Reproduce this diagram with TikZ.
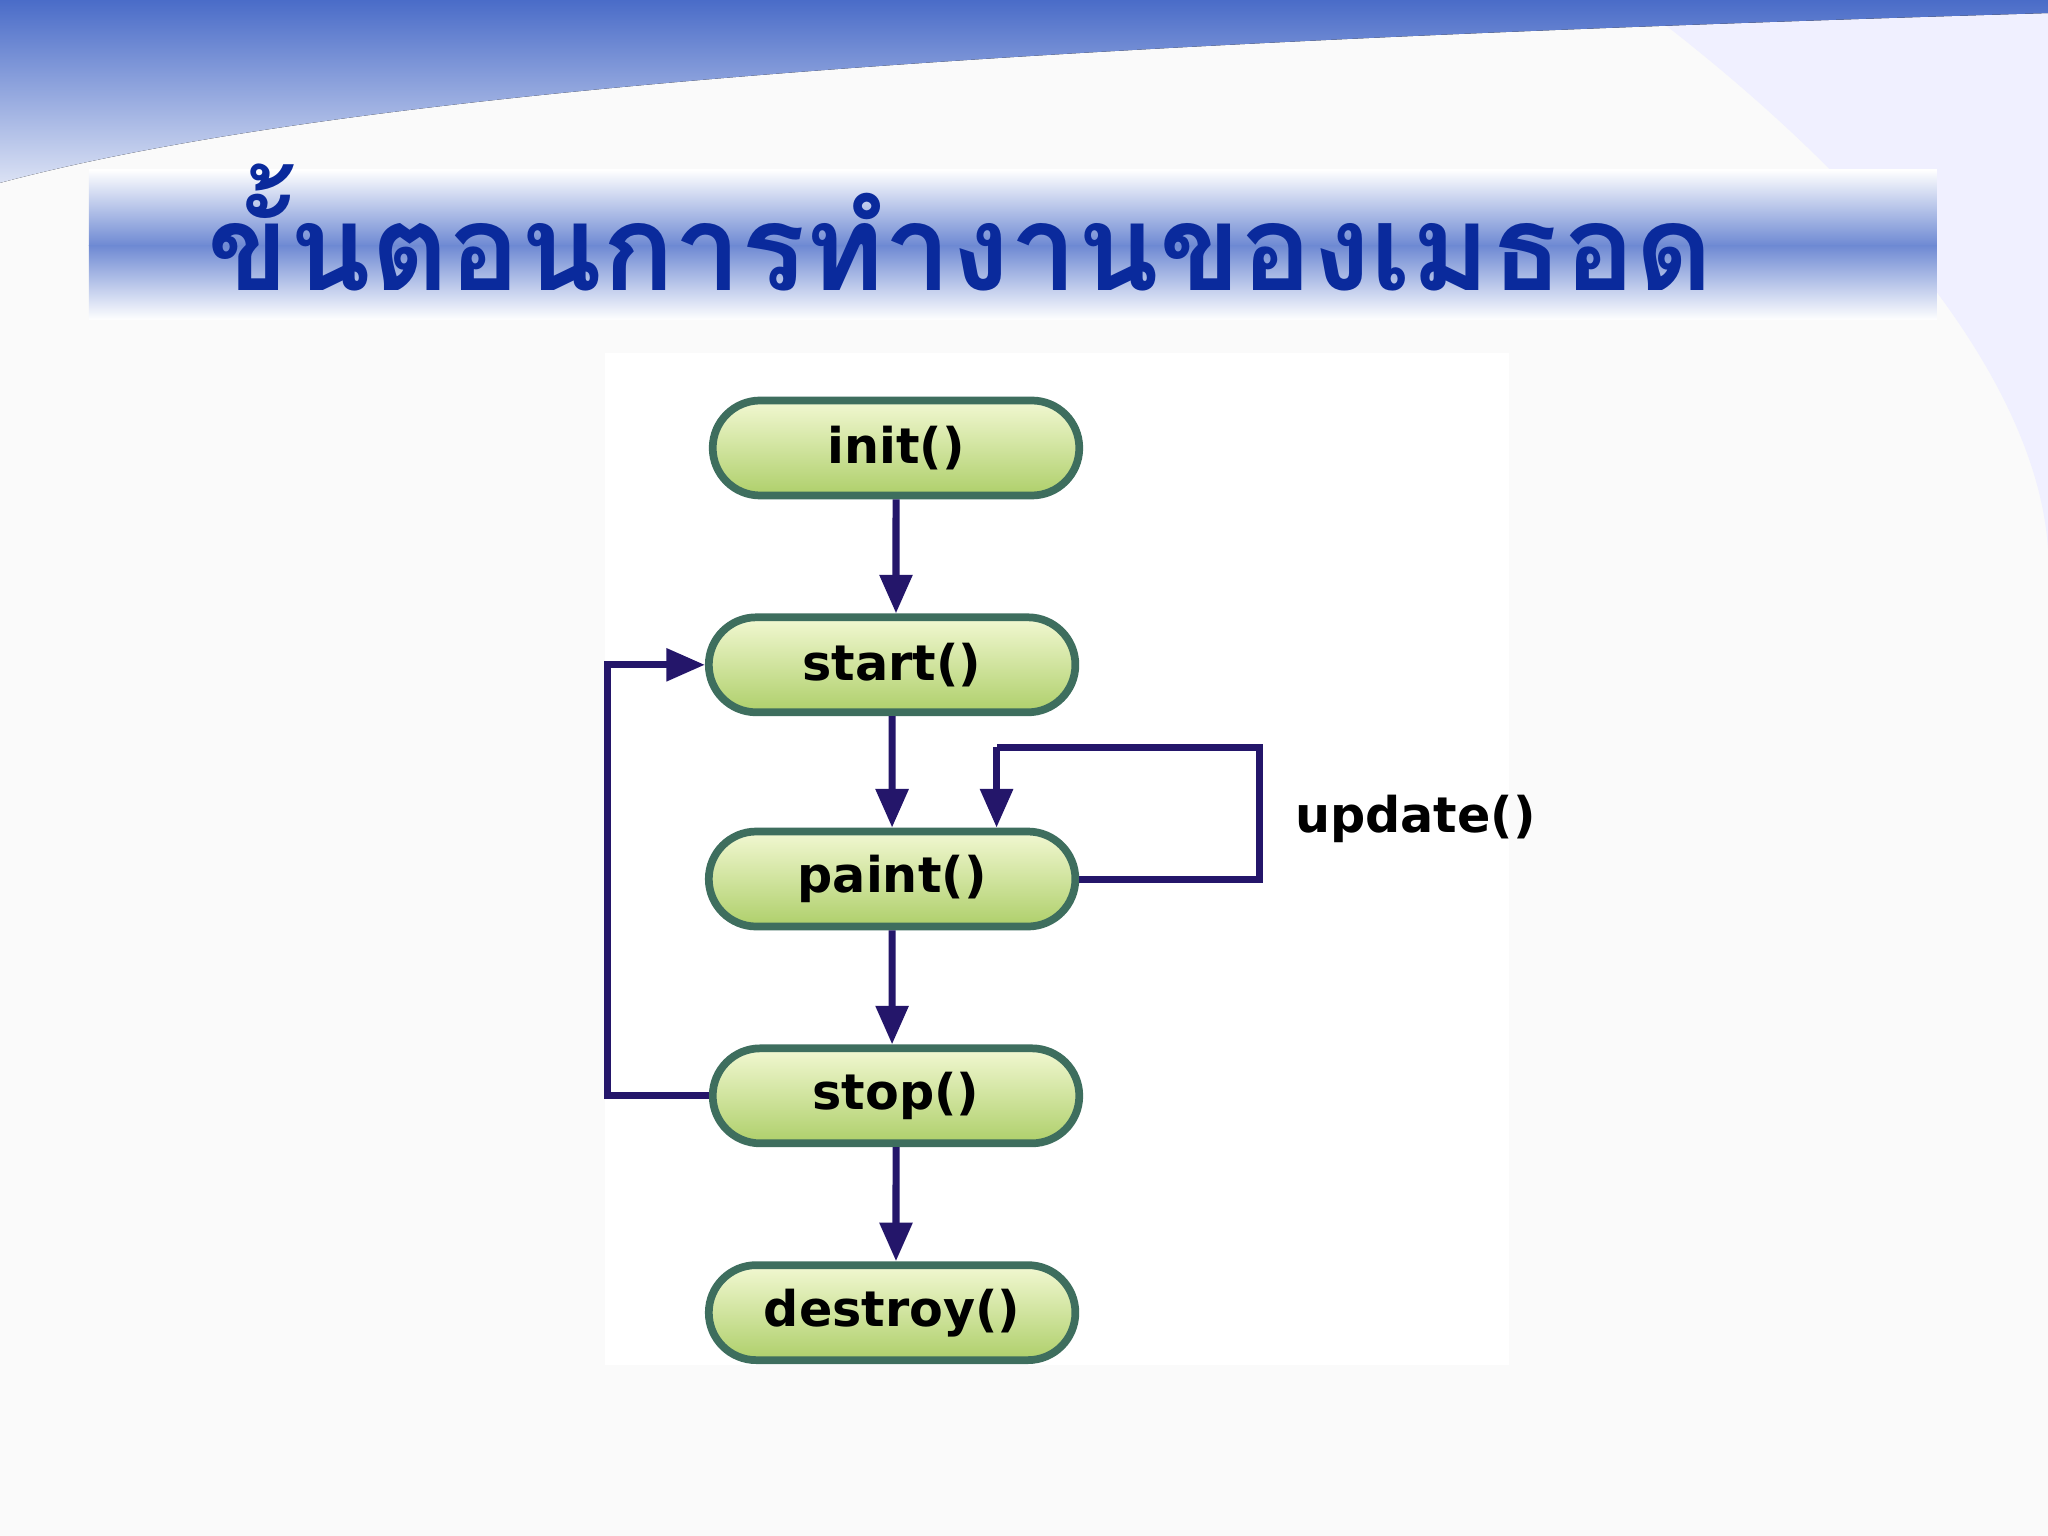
\documentclass[tikz,border=0pt]{standalone}
\usepackage{fontspec}
\newfontfamily\thaifont[Script=Thai]{Loma}
\newfontfamily\labelfont{DejaVu Sans}
\usetikzlibrary{arrows.meta,positioning,shapes.misc}
\definecolor{navy}{HTML}{24166A}
\definecolor{rim}{HTML}{3E6E5E}
\definecolor{leafhi}{HTML}{F2F8D2}
\definecolor{leaflo}{HTML}{AECF6A}
\definecolor{titleblue}{HTML}{0A2A9C}
\definecolor{bandblue}{HTML}{4A6CC8}
\tikzset{
  method/.style={rounded rectangle, draw=rim, line width=2.2pt,
    minimum width=3.9cm, minimum height=0.95cm,
    top color=leafhi, bottom color=leaflo,
    font=\labelfont\bfseries\fontsize{14}{16}\selectfont},
  flow/.style={navy, line width=2pt, -{Triangle[width=9pt,length=11pt]}},
  plain/.style={navy, line width=2pt}
}
\begin{document}
\begin{tikzpicture}[x=0.01306cm,y=-0.01306cm]
    \useasboundingbox (0,0) rectangle (1568,1176);
    % background
    \fill[gray!4] (0,0) rectangle (1568,1176);
    \fill[white] (463,270) rectangle (1155,1045);
    \fill[blue!6] (1250,0) .. controls (1450,150) and (1560,300) .. (1568,420) -- (1568,0) -- cycle;
    \fill[top color=bandblue, bottom color=bandblue!20] (0,0) -- (1568,0) -- (1568,10) .. controls (900,30) and (300,60) .. (0,140) -- cycle;
    % title banner
    \fill[white] (68,130) rectangle (1483,245);
    \shade[top color=white, bottom color=bandblue!80] (68,130) rectangle (1483,188);
    \shade[top color=bandblue!80, bottom color=white] (68,188) rectangle (1483,245);
    \node[font=\thaifont\bfseries\fontsize{34}{38}\selectfont, text=titleblue] (title) at (735,174) {ขั้นตอนการทำงานของเมธอด};
    % methods
    \node[method] (init) at (686,343) {init()};
    \node[method] (start) at (683,509) {start()};
    \node[method] (paint) at (683,673) {paint()};
    \node[method] (stop) at (686,839) {stop()};
    \node[method] (destroy) at (683,1005) {destroy()};
    \draw[flow] (init) -- (init |- start.north);
    \draw[flow] (start) -- (start |- paint.north);
    \draw[flow] (paint) -- (paint |- stop.north);
    \draw[flow] (stop) -- (stop |- destroy.north);
    % loops
    \coordinate (back) at (465,509);
    \draw[flow] (stop.west) -| (back) -- (start.west);
    \coordinate (upd) at (964,572);
    \coordinate (drop) at (763,572);
    \draw[plain] (paint.east) -| (upd) -- (drop);
    \draw[flow] (drop) -- (drop |- paint.north);
    \node[font=\labelfont\bfseries\fontsize{14}{16}\selectfont, anchor=west] (updlabel) at (982,627) {update()};
\end{tikzpicture}
\end{document}
